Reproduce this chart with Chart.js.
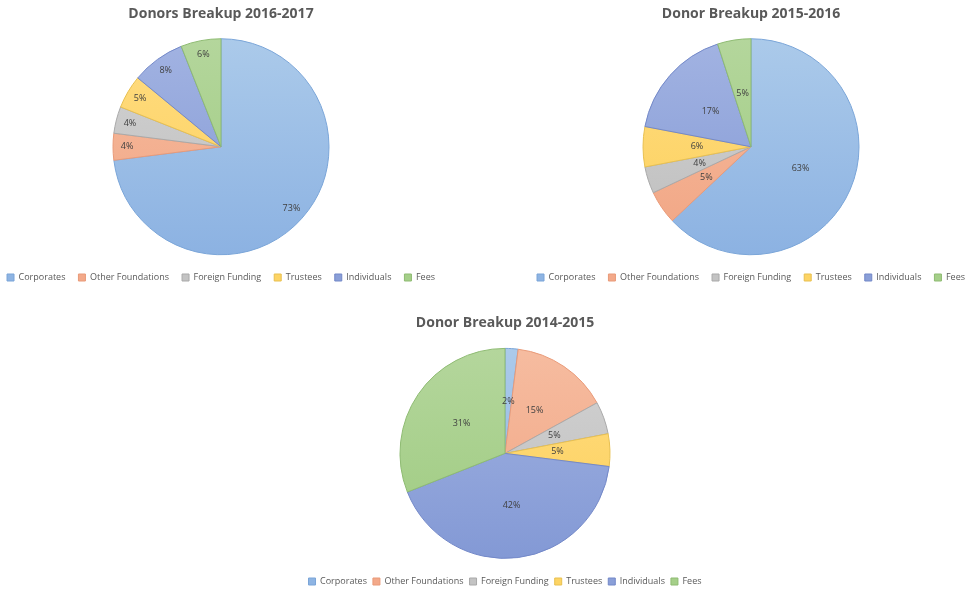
<!DOCTYPE html>
<html>
<head>
<meta charset="utf-8">
<script src="https://cdn.jsdelivr.net/npm/chart.js@4/dist/chart.umd.min.js"></script>
<style>
    html, body { margin: 0; padding: 0; background: #fff; overflow: hidden; width: 970px; height: 590px; }
    .box { position: absolute; }
</style>
</head>
<body>
<div class="box" style="left:-14px;top:0px;width:470px;height:292px"><canvas id="donors-2016"></canvas></div>
<div class="box" style="left:516px;top:0px;width:470px;height:292px"><canvas id="donors-2015"></canvas></div>
<div class="box" style="left:280px;top:309px;width:450px;height:287px"><canvas id="donors-2014"></canvas></div>
<script>
const categories = ['Corporates', 'Other Foundations', 'Foreign Funding', 'Trustees', 'Individuals', 'Fees'];
const share2016 = [73, 4, 4, 5, 8, 6];
const share2015 = [63, 5, 4, 6, 17, 5];
const share2014 = [2, 15, 5, 5, 42, 31];

// light (top) / dark (bottom) fill, plus outline
const sliceTop = ['#abcaea', '#f6bca0', '#d3d3d3', '#ffdc82', '#a2b3e2', '#b4d69c'];
const sliceBottom = ['#8cb2e2', '#f1a583', '#bdbdbd', '#fcd05a', '#8399d5', '#9ecb80'];
const sliceBorder = ['#7aa5d8', '#e99a78', '#a9a9a9', '#e8c050', '#7388c8', '#8ebb72'];
const legendFill = ['#8eb4e3', '#f3a98a', '#c3c3c3', '#fdd464', '#8a9fd8', '#a5cf89'];

const fontFamily = "'Open Sans', 'Liberation Sans', sans-serif";

// percentage labels inside each slice
const sliceLabels = {
    id: 'sliceLabels',
    afterDatasetsDraw(chart, args, opts) {
        const ctx = chart.ctx;
        const meta = chart.getDatasetMeta(0);
        const values = chart.data.datasets[0].data;
        ctx.save();
        ctx.font = '9px ' + fontFamily;
        ctx.fillStyle = '#404040';
        ctx.textAlign = 'center';
        ctx.textBaseline = 'middle';
        meta.data.forEach((arc, i) => {
            const p = arc.getProps(['x', 'y', 'startAngle', 'endAngle', 'outerRadius'], true);
            const mid = (p.startAngle + p.endAngle) / 2;
            const r = p.outerRadius * opts.radius;
            ctx.fillText(values[i] + '%', p.x + Math.cos(mid) * r, p.y + Math.sin(mid) * r);
        });
        ctx.restore();
    }
};

function sliceGradient(context) {
    const chart = context.chart;
    const area = chart.chartArea;
    const i = context.dataIndex;
    if (!area) return legendFill[i];
    const cy = (area.top + area.bottom) / 2;
    const r = chart.options.radius;
    const g = chart.ctx.createLinearGradient(0, cy - r, 0, cy + r);
    g.addColorStop(0, sliceTop[i]);
    g.addColorStop(1, sliceBottom[i]);
    return g;
}

function makePie(id, title, values, opts) {
    const canvas = document.getElementById(id);
    if (!(canvas instanceof HTMLCanvasElement)) return;
    new Chart(canvas, {
        type: 'pie',
        data: {
            labels: categories,
            datasets: [{
                data: values,
                backgroundColor: sliceGradient,
                borderColor: sliceBorder,
                borderWidth: 1,
                hoverOffset: 0
            }]
        },
        options: {
            responsive: true,
            maintainAspectRatio: false,
            animation: false,
            radius: opts.radius,
            plugins: {
                title: {
                    display: true,
                    text: title,
                    color: '#595959',
                    font: { family: fontFamily, size: 14, weight: 'bold', lineHeight: 1.2 },
                    padding: { top: 6, bottom: opts.titleGap }
                },
                legend: {
                    position: 'bottom',
                    labels: {
                        boxWidth: 7,
                        boxHeight: 7,
                        padding: opts.legendPad,
                        color: '#595959',
                        font: { family: fontFamily, size: 9 },
                        generateLabels(chart) {
                            return categories.map((c, i) => ({
                                text: c,
                                fillStyle: legendFill[i],
                                strokeStyle: sliceBorder[i],
                                lineWidth: 1,
                                index: i,
                                fontColor: '#595959'
                            }));
                        }
                    }
                },
                tooltip: { enabled: false },
                sliceLabels: { radius: opts.labelAt }
            }
        },
        plugins: [sliceLabels]
    });
}

makePie('donors-2016', 'Donors Breakup 2016-2017', share2016, { radius: 108, titleGap: 10.7, legendPad: 13, labelAt: 0.87 });
makePie('donors-2015', 'Donor Breakup 2015-2016', share2015, { radius: 108, titleGap: 10.7, legendPad: 13, labelAt: 0.5 });
makePie('donors-2014', 'Donor Breakup 2014-2015', share2014, { radius: 105, titleGap: 4, legendPad: 6, labelAt: 0.5 });
</script>
</body>
</html>
